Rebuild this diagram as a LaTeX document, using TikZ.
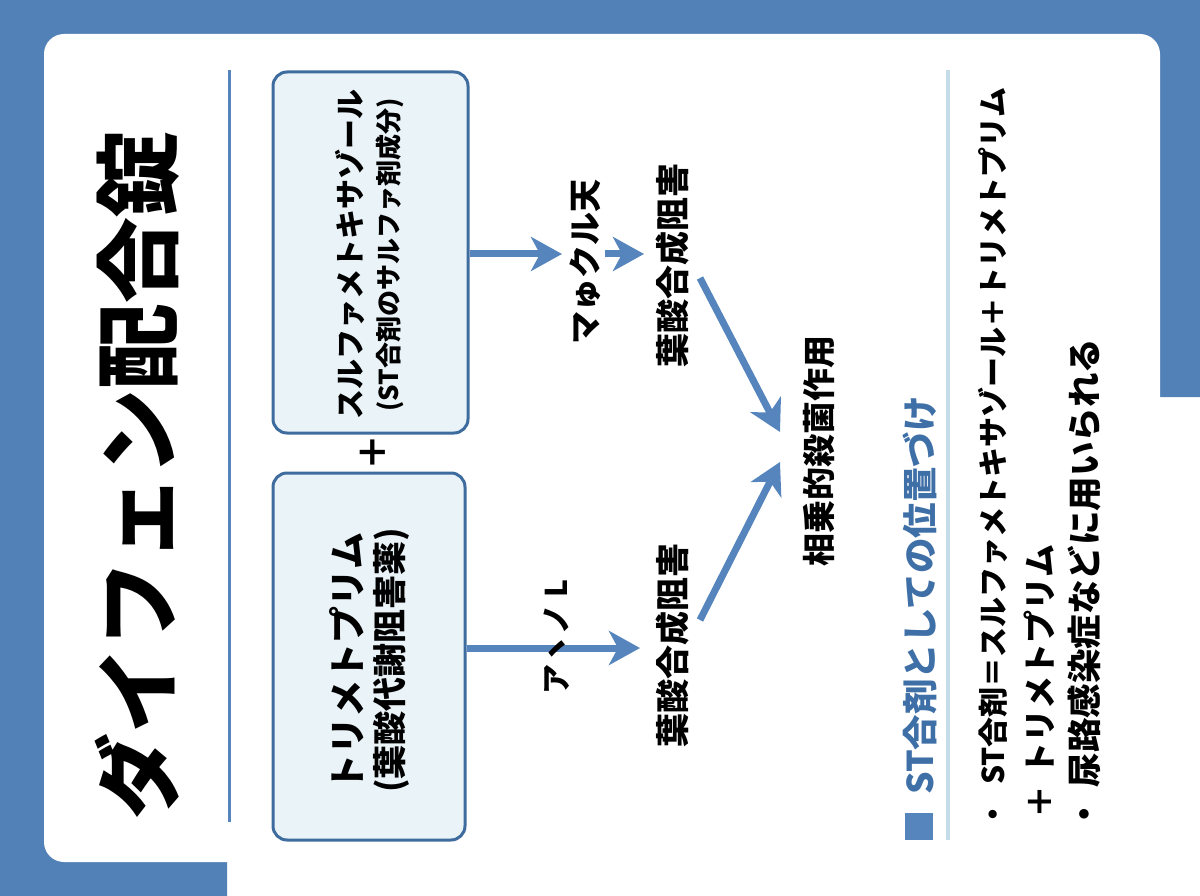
\documentclass[tikz,border=0pt]{standalone}
\usepackage{fontspec}
\setmainfont{Noto Sans CJK JP}
\usetikzlibrary{arrows.meta}
\definecolor{bandblue}{HTML}{5181B6}
\definecolor{linkblue}{HTML}{5585BC}
\definecolor{boxedge}{HTML}{3F6C9F}
\definecolor{boxfill}{HTML}{EAF4F8}
\definecolor{headblue}{HTML}{3E6FA6}
\definecolor{palerule}{HTML}{C6DDE9}
\tikzset{
  x=1pt,y=-1pt,
  lab/.style={rotate=90,inner sep=0pt,font=\fontsize{#1}{#1}\selectfont\bfseries},
  labw/.style={lab=#1,anchor=west},
  flowbox/.style={draw=boxedge,fill=boxfill,line width=3pt,rounded corners=14pt,inner sep=0pt},
  link/.style={draw=linkblue,line width=7pt,-{Stealth[length=31pt,width=34pt,inset=9pt]},shorten >=0pt},
}
\begin{document}
\begin{tikzpicture}
\useasboundingbox (0,0) rectangle (1200,896);
\fill[white] (0,0) rectangle (1200,896);
\fill[bandblue] (0,0) -- (1200,0) -- (1200,397) -- (1160,397) -- (1160,100) -- (227,100) -- (227,896) -- (0,896) -- cycle;
\fill[white,rounded corners=20pt] (44,34) rectangle (1160,862);
\draw[linkblue,line width=3pt] (229,70) -- (229,822);
\draw[palerule,line width=4pt] (948,70) -- (948,840);
\node[lab=86] (title) at (137,475) {ダイフェン配合錠};
\node[flowbox,minimum width=195pt,minimum height=361pt] (boxA) at (370.5,252.5) {};
\node[flowbox,minimum width=192pt,minimum height=367pt] (boxB) at (369,656.5) {};
\node[lab=30] (a1) at (350,254) {スルファメトキサゾール};
\node[lab=26] (a2) at (390,255) {(ST合剤のサルファ剤成分)};
\node[lab=37] (b1) at (347,662) {トリメトプリム};
\node[lab=34] (b2) at (391,660) {(葉酸代謝阻害薬)};
\node[lab=36] (plus) at (373,452) {＋};
\coordinate (j1) at (562,254);
\coordinate (j2) at (605,254);
\coordinate (j3) at (644,254);
\coordinate (j4) at (640,648);
\coordinate (s1) at (700,278);
\coordinate (s2) at (780,432);
\coordinate (s3) at (700,620);
\coordinate (s4) at (780,462);
\draw[link] (boxA.east |- j1) -- (j1);
\draw[link] (j2) -- (j3);
\draw[link] (boxB.east |- j4) -- (j4);
\draw[link] (s1) -- (s2);
\draw[link] (s3) -- (s4);
\node[lab=33] (para) at (585,262) {マゅクル天};
\node[lab=34] (fa) at (673,265) {葉酸合成阻害};
\node[lab=34] (fb) at (673,645) {葉酸合成阻害};
\node[lab=30] (amino) at (557,637) {アヽノ L};
\node[lab=33] (syn) at (819,451) {相乗的殺菌作用};
\fill[linkblue] (905,813) rectangle (933,840);
\node[labw=35.5,text=headblue] (head) at (920,795) {ST合剤としての位置づけ};
\node[labw=30] (bul1) at (993,830) {・\hspace{15pt}ST合剤＝スルファメトキサゾール＋トリメトプリム};
\node[labw=33] (bul2) at (1039,819) {＋\hspace{10pt}トリメトプリム};
\node[labw=34.5] (bul3) at (1084,832) {・\hspace{10pt}尿路感染症などに用いられる};
\end{tikzpicture}
\end{document}
